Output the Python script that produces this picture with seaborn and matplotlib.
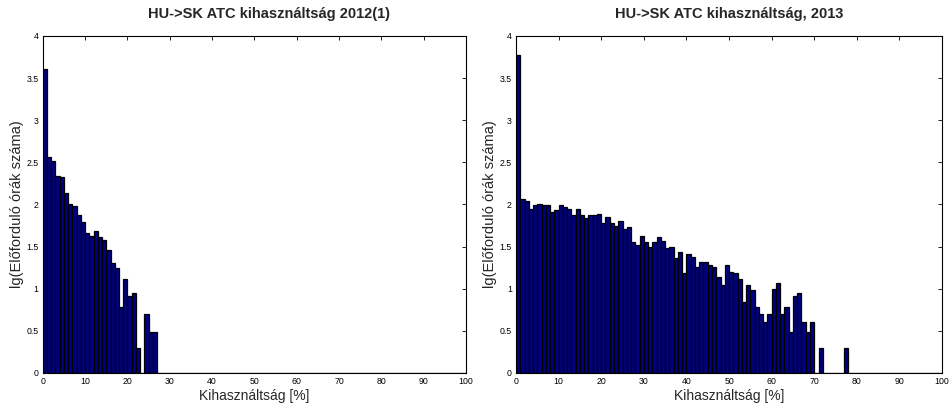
import numpy as np
import pandas as pd
import matplotlib
matplotlib.use("Agg")
import matplotlib.pyplot as plt
import seaborn as sns

# === Data: lg(count) per 1% utilisation bin ===
bins_2012 = list(range(0, 27))
lg_2012 = [3.61, 2.56, 2.52, 2.34, 2.33, 2.14, 2.00, 1.98, 1.88, 1.79,
           1.66, 1.62, 1.68, 1.61, 1.58, 1.46, 1.30, 1.25, 0.78, 1.11,
           0.91, 0.95, 0.30, 0.00, 0.70, 0.48, 0.48]

bins_2013 = list(range(0, 72)) + [77, 80]
lg_2013 = [3.77, 2.06, 2.04, 1.95, 1.99, 2.01, 1.99, 1.99, 1.91, 1.93,
           1.99, 1.97, 1.95, 1.88, 1.94, 1.87, 1.84, 1.87, 1.88, 1.89,
           1.78, 1.85, 1.78, 1.74, 1.80, 1.71, 1.73, 1.55, 1.52, 1.63,
           1.55, 1.50, 1.55, 1.61, 1.57, 1.48, 1.49, 1.36, 1.44, 1.18,
           1.41, 1.37, 1.26, 1.32, 1.32, 1.28, 1.26, 1.14, 1.04, 1.28,
           1.20, 1.18, 1.11, 0.84, 1.04, 0.99, 0.78, 0.70, 0.60, 0.70,
           1.00, 1.07, 0.70, 0.78, 0.48, 0.91, 0.95, 0.60, 0.48, 0.60,
           0.00, 0.30, 0.30, 0.00]

titles = ["HU->SK ATC kihasználtság 2012(1)", "HU->SK ATC kihasználtság, 2013"]
xlabel = "Kihasználtság [%]"
ylabel = "lg(Előforduló órák száma)"

sns.set_style("white")
plt.rcParams["font.family"] = ["Liberation Sans", "DejaVu Sans"]

fig = plt.figure(figsize=(9.51, 4.04), dpi=100)
ax1 = fig.add_axes([0.045, 0.077, 0.445, 0.834])
ax2 = fig.add_axes([0.5426, 0.077, 0.448, 0.834])

for ax, b, v, t, tx in [(ax1, bins_2012, lg_2012, titles[0], 0.535),
                        (ax2, bins_2013, lg_2013, titles[1], 0.5)]:
    df = pd.DataFrame({"x": np.array(b, dtype=float) + 0.5, "lg": v})
    sns.histplot(data=df, x="x", weights="lg", bins=100, binrange=(0, 100),
                 ax=ax, color="#000080", edgecolor="black", linewidth=0.9,
                 alpha=1)
    ax.set_xlim(0, 100)
    ax.set_ylim(0, 4)
    ax.set_xticks(range(0, 101, 10))
    ax.set_yticks(np.arange(0, 4.01, 0.5))
    ax.set_yticklabels(["0", "0.5", "1", "1.5", "2", "2.5", "3", "3.5", "4"])
    ax.tick_params(direction="in", length=3, width=0.6, labelsize=6.3,
                   top=True, right=True, pad=3, colors="black")
    for s in ax.spines.values():
        s.set_color("black")
        s.set_linewidth(0.8)
    ax.set_title(t, fontsize=10.5, fontweight="bold", pad=13, x=tx)
    ax.set_xlabel(xlabel, fontsize=10, labelpad=2)
    ax.set_ylabel(ylabel, fontsize=10.5, labelpad=2)

plt.savefig("out.png", dpi=100)
plt.close()
